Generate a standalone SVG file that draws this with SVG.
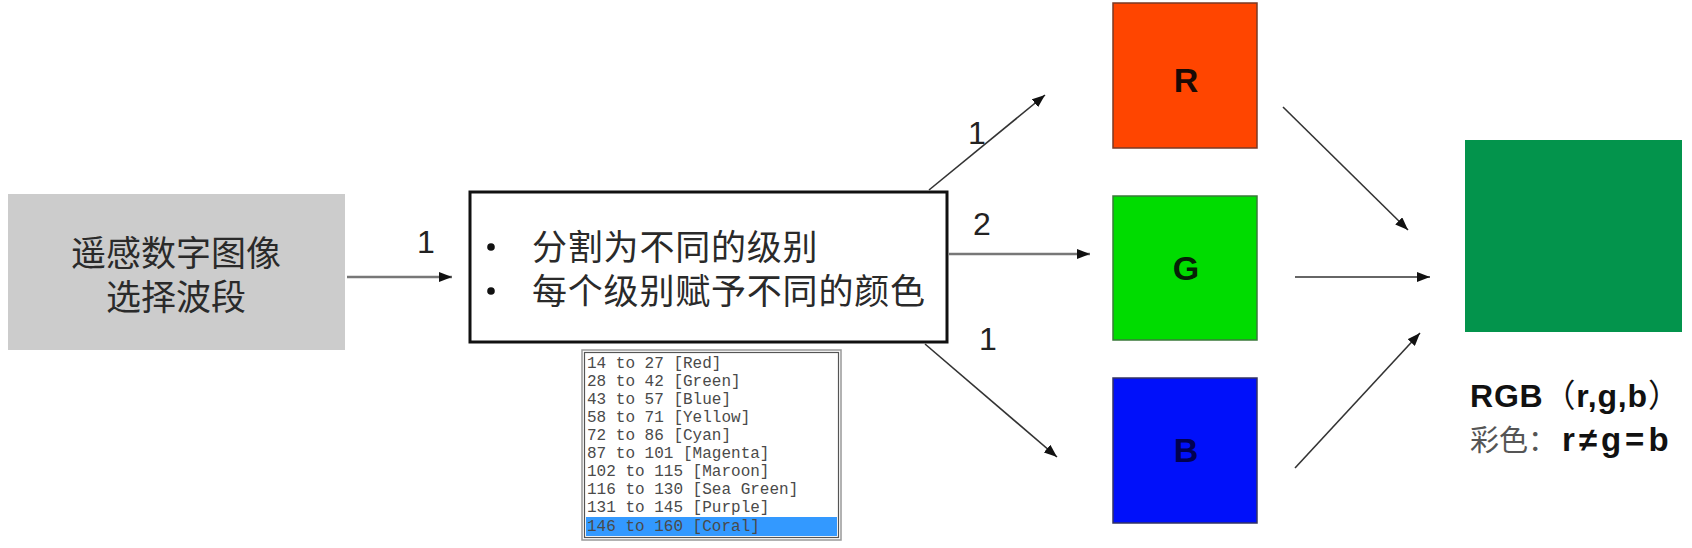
<svg xmlns="http://www.w3.org/2000/svg" width="1692" height="548" viewBox="0 0 1692 548">
<style>
.cjk{font-family:"Noto Sans CJK SC","Liberation Sans",sans-serif;}
.lbl{font-family:"Liberation Sans",Arial,sans-serif;font-size:32px;fill:#222;text-anchor:middle;}
.big{font-family:"Liberation Sans",Arial,sans-serif;font-size:34px;font-weight:bold;text-anchor:middle;}
.mono{font-family:"Liberation Mono","Courier New",monospace;font-size:16px;fill:#4a4a4a;}
.ln{stroke:#333;stroke-width:1.6;fill:none;marker-end:url(#ah);}
.lnh{stroke:#777;stroke-width:2.4;fill:none;marker-end:url(#ah);}
</style>
<defs>
<marker id="ah" markerUnits="userSpaceOnUse" markerWidth="14" markerHeight="10" refX="13" refY="5" orient="auto">
<path d="M0,0 L13,5 L0,10 z" fill="#111"/>
</marker>
</defs>
<rect width="1692" height="548" fill="#ffffff"/>

<g id="source">
<rect x="8" y="194" width="337" height="156" fill="#cccccc"/>
<text class="cjk" x="176" y="266" font-size="35" fill="#2a2a2a" text-anchor="middle">遥感数字图像</text>
<text class="cjk" x="176" y="310" font-size="35" fill="#2a2a2a" text-anchor="middle">选择波段</text>
</g>

<g id="process">
<rect x="470" y="192" width="477" height="150" fill="#ffffff" stroke="#111" stroke-width="3"/>
<circle cx="491" cy="247" r="3.8" fill="#111"/>
<circle cx="491" cy="291" r="3.8" fill="#111"/>
<text class="cjk" x="532" y="260" font-size="35" letter-spacing="0.8" fill="#2a2a2a">分割为不同的级别</text>
<text class="cjk" x="532" y="304" font-size="35" letter-spacing="0.8" fill="#2a2a2a">每个级别赋予不同的颜色</text>
</g>

<g id="legend">
<rect x="582" y="350" width="259" height="190" fill="#ffffff" stroke="#999" stroke-width="1.5"/>
<rect x="584.5" y="352.5" width="254" height="185" fill="none" stroke="#555" stroke-width="1.2"/>
<rect x="586" y="517" width="251" height="19" fill="#3399ff"/>
<text class="mono" x="587" y="368">14 to 27 [Red]</text>
<text class="mono" x="587" y="386">28 to 42 [Green]</text>
<text class="mono" x="587" y="404">43 to 57 [Blue]</text>
<text class="mono" x="587" y="422">58 to 71 [Yellow]</text>
<text class="mono" x="587" y="440">72 to 86 [Cyan]</text>
<text class="mono" x="587" y="458">87 to 101 [Magenta]</text>
<text class="mono" x="587" y="476">102 to 115 [Maroon]</text>
<text class="mono" x="587" y="494">116 to 130 [Sea Green]</text>
<text class="mono" x="587" y="512">131 to 145 [Purple]</text>
<text class="mono" x="587" y="531" fill="#d6ecff">146 to 160 [Coral]</text>
</g>

<g id="R">
<rect x="1113" y="3" width="144" height="145" fill="#ff4500" stroke="#7a3a25" stroke-width="1.5"/>
<text class="big" x="1186" y="92" fill="#1a0a05">R</text>
</g>
<g id="G">
<rect x="1113" y="196" width="144" height="144" fill="#00dc00" stroke="#3a7a3a" stroke-width="1.5"/>
<text class="big" x="1186" y="280" fill="#062006">G</text>
</g>
<g id="B">
<rect x="1113" y="378" width="144" height="145" fill="#0010fa" stroke="#333366" stroke-width="1.5"/>
<text class="big" x="1186" y="462" fill="#000050">B</text>
</g>

<g id="result">
<rect x="1465" y="140" width="217" height="192" fill="#03944c"/>
<text x="1470" y="407" font-family="'Liberation Sans','Noto Sans CJK SC',sans-serif" font-size="32" font-weight="bold" letter-spacing="0.8" fill="#111">RGB<tspan class="cjk" font-weight="normal">（</tspan>r,g,b<tspan class="cjk" font-weight="normal">）</tspan></text>
<text x="1470" y="451" font-size="29" fill="#555" class="cjk">彩色：<tspan x="1562" font-family="'Liberation Sans',Arial,sans-serif" font-size="33" font-weight="bold" letter-spacing="4" fill="#111">r≠g=b</tspan></text>
</g>

<g id="connectors">
<line class="lnh" x1="347" y1="277" x2="452" y2="277"/>
<text class="lbl" x="426" y="253">1</text>
<line class="ln" x1="929" y1="190" x2="1045" y2="95"/>
<text class="lbl" x="977" y="144">1</text>
<line class="lnh" x1="949" y1="254" x2="1090" y2="254"/>
<text class="lbl" x="982" y="235">2</text>
<line class="ln" x1="925" y1="344" x2="1057" y2="457"/>
<text class="lbl" x="988" y="350">1</text>
<line class="ln" x1="1283" y1="107" x2="1408" y2="230"/>
<line class="ln" x1="1295" y1="277" x2="1430" y2="277"/>
<line class="ln" x1="1295" y1="468" x2="1420" y2="333"/>
</g>
</svg>
